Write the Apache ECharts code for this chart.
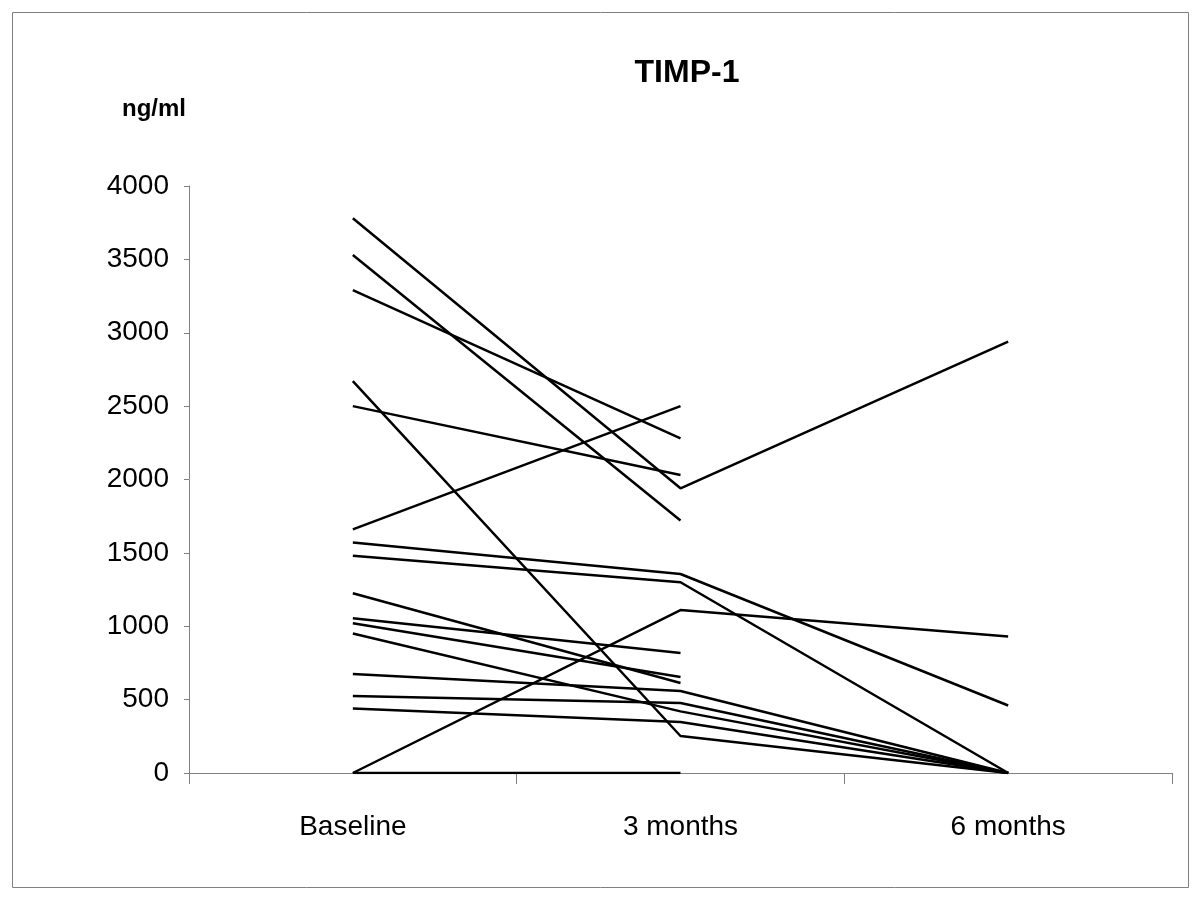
<!DOCTYPE html>
<html>
<head>
<meta charset="utf-8">
<script src="https://cdn.jsdelivr.net/npm/echarts@6/dist/echarts.min.js"></script>
<style>html,body{margin:0;padding:0;background:#fff}#c{width:1200px;height:900px}</style>
</head>
<body>
<div id="c"></div>
<script>
const categories = ['Baseline', '3 months', '6 months'];
const yTicks = { min: 0, max: 4000, interval: 500 };
const patients = [
  [3780, 1940, 2940],
  [3530, 1720, null],
  [3290, 2280, null],
  [2670, 252, 0],
  [2500, 2030, null],
  [1660, 2500, null],
  [1570, 1356, 460],
  [1480, 1300, 0],
  [1225, 613, null],
  [1055, 818, null],
  [1020, 654, null],
  [950, 420, 0],
  [675, 559, 0],
  [525, 477, 0],
  [440, 347, 0],
  [0, 1110, 930],
  [0, 0, null]
];
const titleText = 'TIMP-1';
const unitText = 'ng/ml';

const FONT = '"Liberation Sans Narrow", "Arial Narrow", "Liberation Sans", Arial, sans-serif';
const chart = echarts.init(document.getElementById('c'), null, { renderer: 'canvas' });
chart.setOption({
  backgroundColor: '#fff',
  animation: false,
  title: [
    { text: titleText, left: 682, top: 52, textAlign: 'center',
      textStyle: { fontFamily: FONT, fontWeight: 'bold', fontSize: 32, color: '#000' } },
    { text: unitText, left: 117, top: 92,
      textStyle: { fontFamily: FONT, fontWeight: 'bold', fontSize: 24, color: '#000' } }
  ],
  graphic: [{
    type: 'rect', shape: { x: 12.5, y: 12.5, width: 1176, height: 875 },
    style: { fill: 'none', stroke: '#808080', lineWidth: 1 }, silent: true
  }],
  grid: { left: 189, right: 28, top: 186, bottom: 127, containLabel: false },
  xAxis: {
    type: 'category', data: categories, boundaryGap: true,
    axisLine: { lineStyle: { color: '#808080', width: 1 } },
    axisTick: { show: true, length: 11, lineStyle: { color: '#808080' }, alignWithLabel: false },
    axisLabel: { margin: 40, fontFamily: FONT, fontSize: 28, color: '#000' },
    splitLine: { show: false }
  },
  yAxis: {
    type: 'value', min: yTicks.min, max: yTicks.max, interval: yTicks.interval,
    axisLine: { show: true, lineStyle: { color: '#808080', width: 1 } },
    axisTick: { show: true, length: 5, lineStyle: { color: '#808080' } },
    axisLabel: { margin: 20, fontFamily: FONT, fontSize: 28, color: '#000',
      formatter: v => String(v) },
    splitLine: { show: false }
  },
  series: patients.map((vals, i) => ({
    type: 'line', name: 'P' + (i + 1), data: vals,
    symbol: 'none', connectNulls: false,
    lineStyle: { color: '#000', width: 2.5 },
    z: 3
  }))
});
</script>
</body>
</html>
